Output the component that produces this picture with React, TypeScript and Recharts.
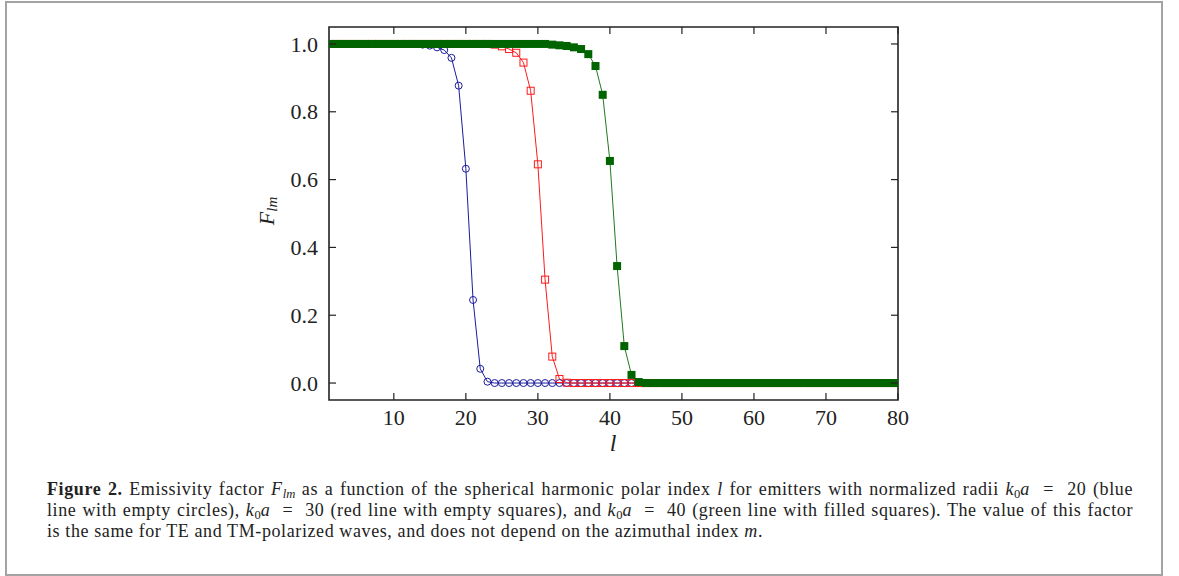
import React from 'react';
import { LineChart, Line, XAxis, YAxis, ReferenceArea } from 'recharts';

// spherical harmonic polar index l = 1..80
const L_INDEX = [
  1, 2, 3, 4, 5, 6, 7, 8, 9, 10,
  11, 12, 13, 14, 15, 16, 17, 18, 19, 20,
  21, 22, 23, 24, 25, 26, 27, 28, 29, 30,
  31, 32, 33, 34, 35, 36, 37, 38, 39, 40,
  41, 42, 43, 44, 45, 46, 47, 48, 49, 50,
  51, 52, 53, 54, 55, 56, 57, 58, 59, 60,
  61, 62, 63, 64, 65, 66, 67, 68, 69, 70,
  71, 72, 73, 74, 75, 76, 77, 78, 79, 80,
];

// k0a = 20 (blue, empty circles)
const F_K20 = [
  1, 1, 1, 1, 1, 1, 1, 1, 1, 1,
  1, 1, 1, 0.998, 0.995, 0.99, 0.982, 0.959, 0.877, 0.632,
  0.245, 0.042, 0.004, 0, 0, 0, 0, 0, 0, 0,
  0, 0, 0, 0, 0, 0, 0, 0, 0, 0,
  0, 0, 0, 0, 0, 0, 0, 0, 0, 0,
  0, 0, 0, 0, 0, 0, 0, 0, 0, 0,
  0, 0, 0, 0, 0, 0, 0, 0, 0, 0,
  0, 0, 0, 0, 0, 0, 0, 0, 0, 0,
];

// k0a = 30 (red, empty squares)
const F_K30 = [
  1, 1, 1, 1, 1, 1, 1, 1, 1, 1,
  1, 1, 1, 1, 1, 1, 1, 1, 1, 1,
  1, 1, 1, 0.998, 0.993, 0.985, 0.974, 0.945, 0.862, 0.645,
  0.305, 0.078, 0.012, 0.001, 0, 0, 0, 0, 0, 0,
  0, 0, 0, 0, 0, 0, 0, 0, 0, 0,
  0, 0, 0, 0, 0, 0, 0, 0, 0, 0,
  0, 0, 0, 0, 0, 0, 0, 0, 0, 0,
  0, 0, 0, 0, 0, 0, 0, 0, 0, 0,
];

// k0a = 40 (green, filled squares)
const F_K40 = [
  1, 1, 1, 1, 1, 1, 1, 1, 1, 1,
  1, 1, 1, 1, 1, 1, 1, 1, 1, 1,
  1, 1, 1, 1, 1, 1, 1, 1, 1, 1,
  1, 0.998, 0.996, 0.994, 0.99, 0.985, 0.97, 0.935, 0.85, 0.655,
  0.345, 0.109, 0.024, 0.003, 0, 0, 0, 0, 0, 0,
  0, 0, 0, 0, 0, 0, 0, 0, 0, 0,
  0, 0, 0, 0, 0, 0, 0, 0, 0, 0,
  0, 0, 0, 0, 0, 0, 0, 0, 0, 0,
];

const X_TICKS = [10, 20, 30, 40, 50, 60, 70, 80];
const Y_TICKS = [0, 0.2, 0.4, 0.6, 0.8, 1.0];

const data = L_INDEX.map((l, i) => ({ l, k20: F_K20[i], k30: F_K30[i], k40: F_K40[i] }));

const BLUE = '#1c1c9c';
const RED = '#ff1a1a';
const GREEN_DOT = '#006400';
const GREEN_LINE = '#1f7a1f';
const AXIS = '#222';
const FONT = '"Liberation Serif", "Times New Roman", serif';

// plot box in page pixels
const LEFT = 329;
const RIGHT = 898;
const TOP = 27;
const BOTTOM = 400;
const TICK = 7;
const Y_AXIS_W = 60;
const X_AXIS_H = 40;

const BottomTick = (props: any) => {
  const { x, payload } = props;
  return (
    <g>
      <line x1={x} x2={x} y1={BOTTOM} y2={BOTTOM - TICK} stroke={AXIS} strokeWidth={1.2} />
      <line x1={x} x2={x} y1={TOP} y2={TOP + TICK} stroke={AXIS} strokeWidth={1.2} />
      <text x={x} y={BOTTOM + 25} textAnchor="middle" fontSize={22} fontFamily={FONT} fill={AXIS}>
        {payload.value}
      </text>
    </g>
  );
};

const LeftTick = (props: any) => {
  const { y, payload } = props;
  return (
    <g>
      <line x1={LEFT} x2={LEFT + TICK} y1={y} y2={y} stroke={AXIS} strokeWidth={1.2} />
      <line x1={RIGHT} x2={RIGHT - TICK} y1={y} y2={y} stroke={AXIS} strokeWidth={1.2} />
      <text x={LEFT - 11} y={y} dy="0.35em" textAnchor="end" fontSize={22} fontFamily={FONT} fill={AXIS}>
        {Number(payload.value).toFixed(1)}
      </text>
    </g>
  );
};

const circleDot = (p: any) => {
  if (p.cx == null || p.cy == null) return <g key={p.index} />;
  return <circle key={p.index} cx={p.cx} cy={p.cy} r={3.5} fill="none" stroke={BLUE} strokeWidth={1} />;
};

const emptySquare = (p: any) => {
  if (p.cx == null || p.cy == null) return <g key={p.index} />;
  return (
    <rect key={p.index} x={p.cx - 3.5} y={p.cy - 3.5} width={7} height={7} fill="none" stroke={RED} strokeWidth={1} />
  );
};

const filledSquare = (p: any) => {
  if (p.cx == null || p.cy == null) return <g key={p.index} />;
  return <rect key={p.index} x={p.cx - 4} y={p.cy - 4} width={8} height={8} fill={GREEN_DOT} stroke="none" />;
};

const subStyle: React.CSSProperties = {
  fontSize: '0.7em',
  position: 'relative',
  top: '0.2em',
  lineHeight: 0,
  letterSpacing: 0,
};

const k0a = (v: number) => (
  <span style={{ whiteSpace: 'nowrap' }}>
    <i>k</i>
    <span style={subStyle}>0</span>
    <i>a</i>&nbsp;&nbsp;=&nbsp;&nbsp;{v}
  </span>
);

const lineStyle: React.CSSProperties = {
  position: 'absolute',
  left: 47,
  width: 1086,
  height: 21,
  fontFamily: FONT,
  fontSize: 18,
  letterSpacing: '0.6px',
  lineHeight: '21px',
  color: '#222',
  whiteSpace: 'nowrap',
};

export default function App() {
  return (
    <div style={{ position: 'absolute', left: 0, top: 0, width: 1179, height: 576, background: '#fff', overflow: 'hidden' }}>
      <div
        style={{
          position: 'absolute',
          left: 5,
          top: 1,
          width: 1158,
          height: 575,
          border: '2px solid #a3a3a3',
          boxSizing: 'border-box',
        }}
      />
      <div style={{ position: 'absolute', left: 0, top: 0 }}>
        <LineChart
          width={1179}
          height={576}
          data={data}
          margin={{ top: TOP, right: 1179 - RIGHT, bottom: 576 - BOTTOM - X_AXIS_H, left: LEFT - Y_AXIS_W }}
        >
          <XAxis
            dataKey="l"
            type="number"
            domain={[1, 80]}
            ticks={X_TICKS}
            allowDataOverflow
            height={X_AXIS_H}
            axisLine={false}
            tickLine={false}
            tick={BottomTick}
            interval={0}
          />
          <YAxis
            type="number"
            domain={[-0.05, 1.05]}
            ticks={Y_TICKS}
            allowDataOverflow
            width={Y_AXIS_W}
            axisLine={false}
            tickLine={false}
            tick={LeftTick}
            interval={0}
          />
          <ReferenceArea x1={1} x2={80} y1={-0.05} y2={1.05} fill="none" stroke={AXIS} strokeWidth={1.6} fillOpacity={0} />
          <Line
            dataKey="k20"
            type="linear"
            stroke={BLUE}
            strokeWidth={1}
            dot={circleDot}
            activeDot={false}
            isAnimationActive={false}
          />
          <Line
            dataKey="k30"
            type="linear"
            stroke={RED}
            strokeWidth={1}
            dot={emptySquare}
            activeDot={false}
            isAnimationActive={false}
          />
          <Line
            dataKey="k40"
            type="linear"
            stroke={GREEN_LINE}
            strokeWidth={1}
            dot={filledSquare}
            activeDot={false}
            isAnimationActive={false}
          />
        </LineChart>
      </div>
      <div
        style={{
          position: 'absolute',
          left: 267,
          top: 211,
          transform: 'translate(-50%, -50%) rotate(-90deg)',
          fontFamily: FONT,
          fontSize: 22,
          fontStyle: 'italic',
          color: '#222',
          whiteSpace: 'nowrap',
        }}
      >
        F<span style={{ ...subStyle, fontSize: 15 }}>lm</span>
      </div>
      <div
        style={{
          position: 'absolute',
          left: 613,
          top: 443,
          transform: 'translate(-50%, -50%)',
          fontFamily: FONT,
          fontSize: 24,
          fontStyle: 'italic',
          color: '#222',
        }}
      >
        l
      </div>
      <div style={{ ...lineStyle, top: 479, textAlign: 'justify', textAlignLast: 'justify' }}>
        <b>Figure 2.</b> Emissivity factor <i>F</i>
        <i style={subStyle}>lm</i> as a function of the spherical harmonic polar index <i>l</i> for emitters with
        normalized radii {k0a(20)} (blue
      </div>
      <div style={{ ...lineStyle, top: 500, textAlign: 'justify', textAlignLast: 'justify' }}>
        line with empty circles), {k0a(30)} (red line with empty squares), and {k0a(40)} (green line with filled
        squares). The value of this factor
      </div>
      <div style={{ ...lineStyle, top: 521 }}>
        is the same for TE and TM-polarized waves, and does not depend on the azimuthal index <i>m</i>.
      </div>
    </div>
  );
}
